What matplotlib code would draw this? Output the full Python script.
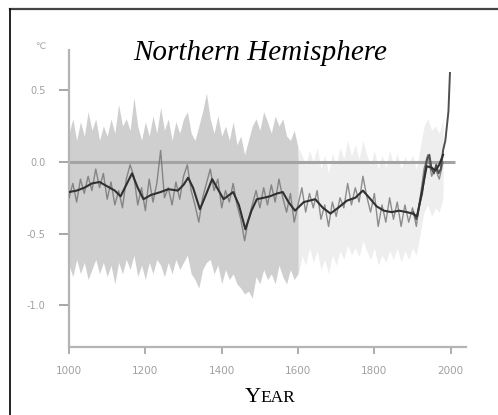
import numpy as np
import matplotlib
matplotlib.use("Agg")
import matplotlib.pyplot as plt
from matplotlib.lines import Line2D

# decadal sample years of the reconstruction
years10 = np.arange(1000, 1990, 10)

# reconstruction (decadal samples), deg C
raw = [
    -0.25, -0.15, -0.28, -0.12, -0.22, -0.10, -0.20, -0.05, -0.18, -0.08,
    -0.26, -0.14, -0.30, -0.20, -0.32, -0.12, -0.02, -0.10, -0.30, -0.18,
    -0.34, -0.12, -0.28, -0.15, 0.08, -0.25, -0.18, -0.30, -0.14, -0.26,
    -0.10, -0.02, -0.20, -0.30, -0.42, -0.25, -0.15, -0.05, -0.20, -0.12,
    -0.32, -0.20, -0.28, -0.15, -0.30, -0.40, -0.55, -0.40, -0.30, -0.20,
    -0.32, -0.18, -0.30, -0.16, -0.28, -0.12, -0.25, -0.35, -0.22, -0.42,
    -0.30, -0.18, -0.35, -0.22, -0.32, -0.20, -0.40, -0.30, -0.45, -0.28,
    -0.38, -0.25, -0.32, -0.15, -0.30, -0.18, -0.28, -0.10, -0.24, -0.35,
    -0.22, -0.45, -0.30, -0.42, -0.25, -0.40, -0.28, -0.45, -0.30, -0.42,
    -0.32, -0.45, -0.25, -0.05, 0.05, -0.10, -0.05, -0.12, 0.00,
]

# uncertainty band edges
upper = [
    0.20, 0.30, 0.15, 0.28, 0.18, 0.35, 0.22, 0.30, 0.15, 0.25,
    0.18, 0.30, 0.20, 0.40, 0.25, 0.30, 0.22, 0.45, 0.25, 0.15,
    0.28, 0.18, 0.32, 0.20, 0.38, 0.22, 0.30, 0.15, 0.28, 0.20,
    0.30, 0.35, 0.20, 0.15, 0.25, 0.35, 0.48, 0.30, 0.20, 0.32,
    0.18, 0.25, 0.15, 0.28, 0.12, 0.18, 0.05, 0.15, 0.25, 0.30,
    0.22, 0.35, 0.28, 0.20, 0.32, 0.25, 0.30, 0.18, 0.15, 0.22,
    0.10, 0.05, -0.02, 0.08, 0.00, 0.10, -0.05, 0.05, -0.08, 0.06,
    -0.02, 0.10, 0.02, 0.15, 0.04, 0.12, 0.02, 0.15, 0.05, -0.02,
    0.08, -0.05, 0.05, -0.04, 0.08, -0.02, 0.06, -0.05, 0.04, -0.02,
    0.05, -0.05, 0.10, 0.25, 0.30, 0.22, 0.25, 0.20, 0.30,
]
lower = [
    -0.72, -0.80, -0.68, -0.78, -0.70, -0.82, -0.75, -0.68, -0.78, -0.70,
    -0.80, -0.72, -0.85, -0.70, -0.78, -0.68, -0.75, -0.65, -0.80, -0.72,
    -0.82, -0.70, -0.78, -0.68, -0.72, -0.80, -0.70, -0.78, -0.68, -0.75,
    -0.70, -0.65, -0.78, -0.82, -0.88, -0.75, -0.70, -0.68, -0.78, -0.72,
    -0.85, -0.75, -0.82, -0.78, -0.85, -0.88, -0.92, -0.90, -0.95, -0.80,
    -0.85, -0.75, -0.82, -0.78, -0.85, -0.72, -0.80, -0.85, -0.75, -0.82,
    -0.78, -0.65, -0.72, -0.60, -0.70, -0.62, -0.75, -0.68, -0.78, -0.65,
    -0.72, -0.62, -0.68, -0.58, -0.65, -0.60, -0.66, -0.55, -0.62, -0.68,
    -0.60, -0.72, -0.65, -0.70, -0.62, -0.68, -0.60, -0.70, -0.62, -0.68,
    -0.60, -0.65, -0.50, -0.35, -0.30, -0.38, -0.32, -0.35, -0.25,
]

# smoothed curve
smooth_years = [1000, 1020, 1040, 1060, 1080, 1100, 1120, 1135, 1150, 1165,
                1180, 1195, 1215, 1240, 1260, 1285, 1300, 1312, 1325, 1343,
                1360, 1375, 1390, 1405, 1430, 1445, 1462, 1478, 1492, 1510,
                1526, 1545, 1560, 1575, 1592, 1615, 1645, 1665, 1685, 1705,
                1728, 1750, 1770, 1790, 1806, 1825, 1845, 1865, 1885, 1900,
                1912, 1925, 1937, 1950, 1960, 1970, 1980]
smooth = [-0.21, -0.20, -0.18, -0.15, -0.14, -0.17, -0.20, -0.24, -0.16, -0.08,
          -0.18, -0.26, -0.23, -0.21, -0.19, -0.20, -0.16, -0.11, -0.18, -0.33,
          -0.22, -0.12, -0.19, -0.26, -0.21, -0.30, -0.47, -0.34, -0.26, -0.25,
          -0.24, -0.22, -0.21, -0.28, -0.34, -0.28, -0.26, -0.32, -0.36, -0.32,
          -0.27, -0.25, -0.20, -0.26, -0.31, -0.34, -0.35, -0.34, -0.35, -0.36,
          -0.38, -0.20, -0.03, -0.04, -0.06, -0.02, 0.05]

# instrumental record
instr_years = [1902, 1910, 1918, 1925, 1932, 1938, 1944, 1950, 1956, 1962,
               1968, 1974, 1980, 1986, 1990, 1994, 1998]
instr = [-0.35, -0.40, -0.30, -0.22, -0.08, 0.02, 0.05, -0.05, -0.08, -0.02,
         -0.08, -0.05, 0.08, 0.15, 0.25, 0.35, 0.62]

yticks = [0.5, 0.0, -0.5, -1.0]
ytick_labels = ["0.5", "0.0", "-0.5", "-1.0"]
xticks = [1000, 1200, 1400, 1600, 1800, 2000]

fig = plt.figure(figsize=(4.98, 4.15), dpi=100)
ax = fig.add_axes([0.1386, 0.1639, 0.7971, 0.7156])

up = np.array(upper)
lo = np.array(lower)
early = years10 <= 1600
late = years10 >= 1600
ax.fill_between(years10, lo, up, where=early, color="#cfcfcf", lw=0, interpolate=True)
ax.fill_between(years10, lo, up, where=late, color="#eeeeee", lw=0, interpolate=True)

ax.hlines(0, 1000, 2010, color="#a4a4a4", lw=2.2, zorder=2)

# annual-type wiggles, darker in the late part like the picture
ax.plot(years10, raw, color="#6c6c6c", lw=1.0, alpha=0.75, zorder=3)
ax.plot(instr_years, instr, color="#505050", lw=1.4, zorder=4)
ax.plot(smooth_years, smooth, color="#303030", lw=1.5, zorder=5)

ax.set_xlim(1000, 2040)
ax.set_ylim(-1.29, 0.78)

for s in ["top", "right"]:
    ax.spines[s].set_visible(False)
for s in ["left", "bottom"]:
    ax.spines[s].set_color("#b4b4b4")
    ax.spines[s].set_linewidth(1.6)

ax.set_yticks(yticks)
ax.set_yticklabels(ytick_labels)
ax.set_xticks(xticks)
ax.tick_params(axis="y", colors="#a0a0a0", length=7, width=1.3, pad=10, labelsize=7)
ax.tick_params(axis="x", colors="#a0a0a0", length=5, width=1.2, pad=9, labelsize=7.5)

fig.text(0.08, 0.887, "\u2103", color="#a0a0a0", fontsize=6.5, ha="center", va="center")

fig.text(0.522, 0.872, "Northern Hemisphere", family="Liberation Serif",
         style="italic", fontsize=21, ha="center", va="center")

fig.text(0.524, 0.031, "Y", family="Liberation Serif", fontsize=16,
         ha="right", va="baseline")
fig.text(0.524, 0.031, "EAR", family="Liberation Serif", fontsize=12.5,
         ha="left", va="baseline")

# frame
fig.add_artist(Line2D([0.02, 1.0], [0.978, 0.978], color="#444444", lw=1.6,
                      transform=fig.transFigure))
fig.add_artist(Line2D([0.02, 0.02], [0.0, 0.978], color="#111111", lw=1.3,
                      transform=fig.transFigure))

fig.savefig("out.png", dpi=100)
